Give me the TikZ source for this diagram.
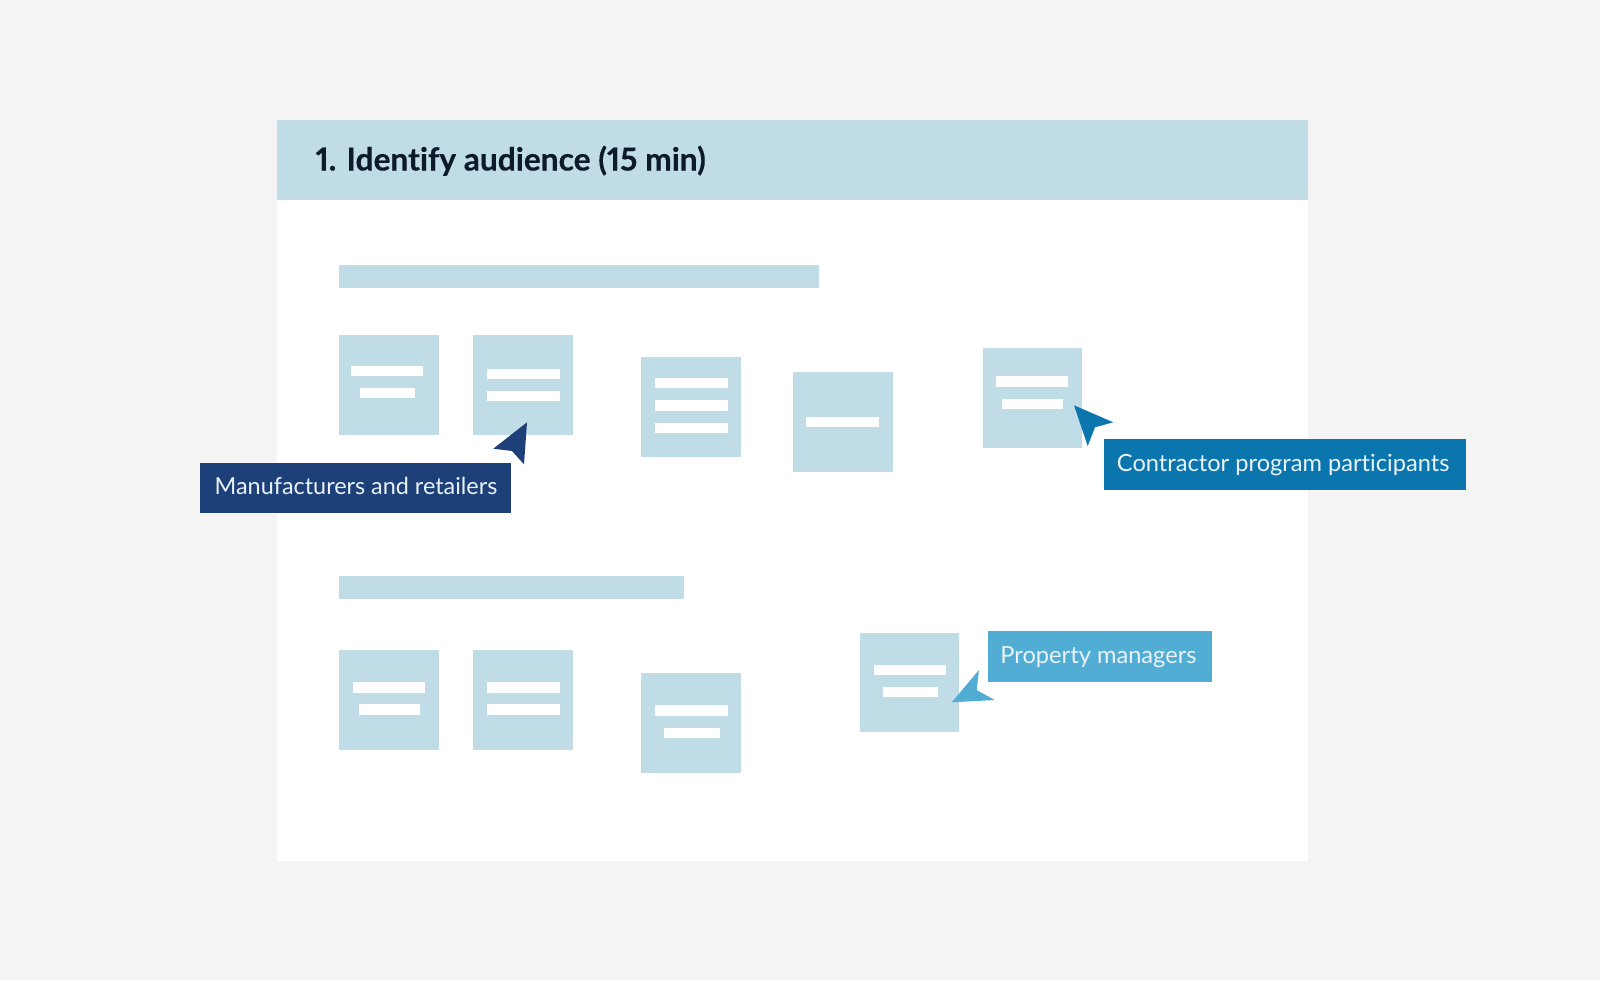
\documentclass[tikz,border=0pt]{standalone}
\usepackage{fontspec}
\setmainfont[Numbers=Proportional,Ligatures=NoCommon,BoldFeatures={FakeBold=0.35}]{Lato}
\definecolor{pagebg}{HTML}{F4F4F4}
\definecolor{pale}{HTML}{C0DCE6}
\definecolor{navy}{HTML}{1E4078}
\definecolor{midblue}{HTML}{0B76AE}
\definecolor{skyblue}{HTML}{52ADD4}
\definecolor{titleink}{HTML}{0C1A2B}
\definecolor{labelink}{HTML}{E8F2F7}
\tikzset{
  panelfill/.style={fill=white},
  palefill/.style={fill=pale},
  barfill/.style={fill=white},
  titletext/.style={anchor=base west,inner sep=0pt,text=titleink,font=\fontsize{31.7}{36}\selectfont\bfseries},
  labeltext/.style={anchor=base west,inner sep=0pt,text=labelink,font=\fontsize{23.65}{28}\selectfont},
  labeltextsmall/.style={labeltext,font=\fontsize{23.4}{28}\selectfont},
}
\begin{document}
\begin{tikzpicture}[x=1pt,y=-1pt]
\useasboundingbox (0,0) rectangle (1600,980);
\fill[pagebg] (0,0) rectangle (1600,980);
\fill[panelfill] (277,119.5) rectangle (1308,860.5);
\fill[palefill] (277,119.5) rectangle (1308,200);
\node[titletext] (title) at (315.5,170.5) {1. Identify audience (15 min)};
% section bars
\fill[palefill] (339,264.5) rectangle (818.5,288);
\fill[palefill] (339,575.5) rectangle (684,599);
% card 1
\fill[palefill] (339,335) rectangle (439,434.5);
\fill[barfill] (351.3,365.5) rectangle (423.3,376);
\fill[barfill] (360,387.5) rectangle (415,398);
% card 2
\fill[palefill] (473.2,335) rectangle (573.2,434.5);
\fill[barfill] (487.2,368.5) rectangle (559.7,379);
\fill[barfill] (487.2,390.5) rectangle (559.7,401);
% card 3
\fill[palefill] (641,357) rectangle (741,457);
\fill[barfill] (654.5,377.5) rectangle (727.5,388);
\fill[barfill] (654.5,400) rectangle (727.5,410.5);
\fill[barfill] (654.5,422.5) rectangle (727.5,433);
% card 4
\fill[palefill] (793,372) rectangle (892.7,472);
\fill[barfill] (806,416.5) rectangle (878.5,427);
% card 5 (contractor)
\fill[palefill] (983,348) rectangle (1082,447.5);
\fill[barfill] (996,376) rectangle (1068,387);
\fill[barfill] (1001.7,398.7) rectangle (1063,409);
% card row 2
\fill[palefill] (339,650) rectangle (439,750);
\fill[barfill] (352.5,682) rectangle (424.5,692.5);
\fill[barfill] (358.5,704) rectangle (419.5,714.5);
\fill[palefill] (473.2,650) rectangle (573.2,750);
\fill[barfill] (487.2,682) rectangle (559.7,692.5);
\fill[barfill] (487.2,704) rectangle (559.7,714.5);
\fill[palefill] (641,672.5) rectangle (741,772.5);
\fill[barfill] (654.5,705) rectangle (727.5,715.5);
\fill[barfill] (664,727.5) rectangle (719.5,738);
\fill[palefill] (860,633) rectangle (959,732);
\fill[barfill] (873.7,664.7) rectangle (946,675);
\fill[barfill] (883,687) rectangle (938,697);
% callouts
\fill[navy] (527,422.3) -- (493.3,448.7) -- (512,451) -- (524,464.3) -- cycle;
\fill[navy] (200,462.5) rectangle (511,513);
\node[labeltextsmall] (manufacturers) at (214.5,494.5) {Manufacturers and retailers};
\fill[midblue] (1074,405.3) -- (1113.3,422.3) -- (1095,427.3) -- (1087.7,446) -- cycle;
\fill[midblue] (1104,439) rectangle (1465.5,490);
\node[labeltext] (contractor) at (1116.7,471.5) {Contractor program participants};
\fill[skyblue] (951.7,702.3) -- (979,670) -- (976.7,690) -- (994.7,700) -- cycle;
\fill[skyblue] (988,631) rectangle (1212,682);
\node[labeltext] (property) at (1000.2,663) {Property managers};
\end{tikzpicture}
\end{document}
